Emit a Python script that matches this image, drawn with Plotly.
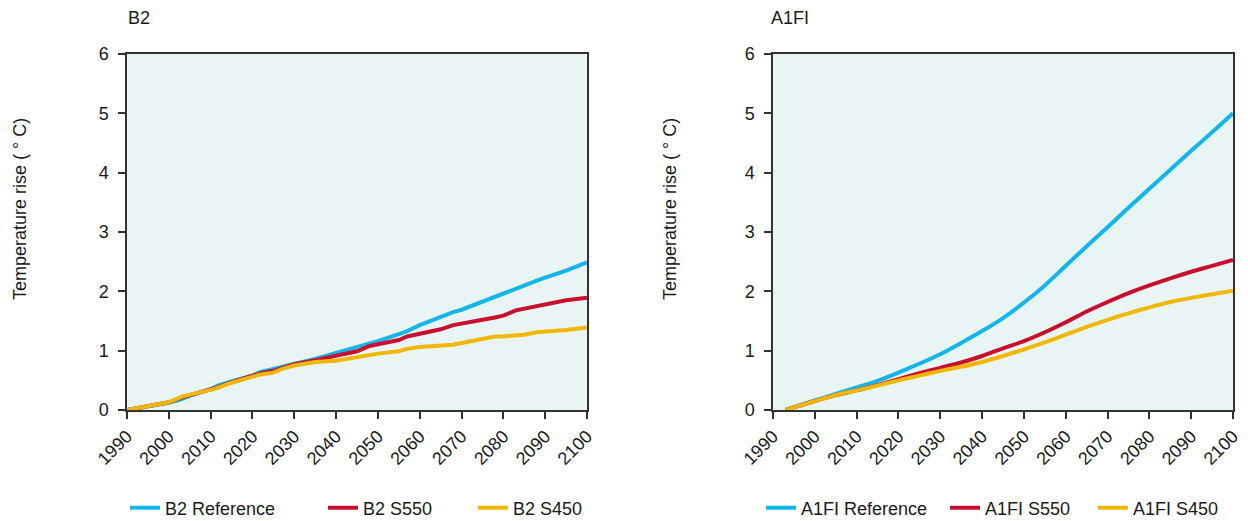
import plotly.graph_objects as go

# ---- B2 scenario (temperature rise, deg C) ----
b2_years = [1990, 1995, 2000, 2003, 2005, 2010, 2012, 2015, 2020, 2022, 2025, 2027, 2030,
            2035, 2040, 2045, 2048, 2050, 2055, 2057, 2060, 2065, 2068, 2070, 2075,
            2078, 2080, 2083, 2085, 2088, 2090, 2095, 2100]
b2_reference = [0.00, 0.06, 0.12, 0.18, 0.24, 0.35, 0.42, 0.48, 0.58, 0.64, 0.69, 0.72, 0.77,
                0.86, 0.96, 1.06, 1.12, 1.16, 1.28, 1.33, 1.43, 1.57, 1.65, 1.69, 1.83,
                1.91, 1.96, 2.04, 2.10, 2.18, 2.23, 2.35, 2.49]
b2_s550 = [0.00, 0.06, 0.13, 0.21, 0.25, 0.34, 0.39, 0.47, 0.58, 0.62, 0.66, 0.71, 0.77,
           0.84, 0.92, 0.99, 1.08, 1.11, 1.18, 1.24, 1.29, 1.36, 1.43, 1.46, 1.52,
           1.56, 1.59, 1.68, 1.71, 1.75, 1.78, 1.85, 1.89]
b2_s450 = [0.00, 0.07, 0.13, 0.22, 0.26, 0.34, 0.38, 0.46, 0.57, 0.60, 0.63, 0.69, 0.75,
           0.81, 0.83, 0.89, 0.93, 0.95, 0.99, 1.03, 1.06, 1.09, 1.10, 1.13, 1.20,
           1.24, 1.24, 1.26, 1.27, 1.31, 1.32, 1.35, 1.39]

# ---- A1FI scenario (temperature rise, deg C) ----
a1_years = [1993, 2000, 2005, 2010, 2015, 2020, 2025, 2030, 2035, 2040, 2045, 2050,
            2055, 2060, 2065, 2070, 2075, 2080, 2085, 2090, 2095, 2100]
a1_reference = [0.00, 0.16, 0.27, 0.38, 0.49, 0.63, 0.78, 0.94, 1.13, 1.33, 1.55, 1.81,
                2.10, 2.43, 2.76, 3.08, 3.41, 3.73, 4.05, 4.37, 4.68, 5.00]
a1_s550 = [0.00, 0.15, 0.25, 0.33, 0.42, 0.52, 0.62, 0.71, 0.80, 0.91, 1.04, 1.16,
           1.31, 1.48, 1.66, 1.82, 1.97, 2.10, 2.22, 2.33, 2.43, 2.53]
a1_s450 = [0.00, 0.15, 0.25, 0.33, 0.41, 0.50, 0.58, 0.66, 0.73, 0.81, 0.91, 1.02,
           1.14, 1.27, 1.40, 1.52, 1.63, 1.73, 1.82, 1.89, 1.95, 2.01]

x_ticks = list(range(1990, 2101, 10))
y_ticks = [0, 1, 2, 3, 4, 5, 6]

CYAN = "#13B5EA"
RED = "#C8102E"
YELLOW = "#F2B705"
PLOT_BG = "#E9F5F5"
AXIS = "#333333"
TEXT = "#1a1a1a"
FONT = "Liberation Sans, Arial, sans-serif"

W, H = 1248, 521


def px_x(p):
    return p / W


def px_y(p):
    return 1 - p / H


fig = go.Figure()

series = [
    (b2_years, b2_reference, "B2 Reference", CYAN, "x", "y", "legend", "linear"),
    (b2_years, b2_s550, "B2 S550", RED, "x", "y", "legend2", "linear"),
    (b2_years, b2_s450, "B2 S450", YELLOW, "x", "y", "legend3", "linear"),
    (a1_years, a1_reference, "A1FI Reference", CYAN, "x2", "y2", "legend4", "spline"),
    (a1_years, a1_s550, "A1FI S550", RED, "x2", "y2", "legend5", "spline"),
    (a1_years, a1_s450, "A1FI S450", YELLOW, "x2", "y2", "legend6", "spline"),
]
# draw order: reference first, then S550, then S450 on top
for xs, ys, name, color, xa, ya, lg, shape in series:
    fig.add_trace(go.Scatter(
        x=xs, y=ys, name=name, mode="lines",
        line=dict(color=color, width=4, shape=shape, smoothing=0.6),
        xaxis=xa, yaxis=ya, legend=lg, showlegend=True,
    ))

axis_common = dict(
    showline=True, linecolor=AXIS, linewidth=1.5, mirror=True,
    ticks="outside", ticklen=7, tickwidth=1.5, tickcolor=AXIS,
    showgrid=False, zeroline=False, automargin=False,
    tickfont=dict(family=FONT, size=18, color=TEXT),
)

x_dom_left = [px_x(127), px_x(587)]
x_dom_right = [px_x(773), px_x(1233)]
y_dom = [px_y(410), px_y(54)]

fig.update_layout(
    width=W, height=H,
    margin=dict(l=0, r=0, t=0, b=0, autoexpand=False),
    paper_bgcolor="white",
    plot_bgcolor=PLOT_BG,
    font=dict(family=FONT, size=18, color=TEXT),
    xaxis=dict(domain=x_dom_left, range=[1990, 2100], tickvals=x_ticks,
               tickangle=-45, anchor="y", **axis_common),
    yaxis=dict(domain=y_dom, range=[0, 6], tickvals=y_ticks, anchor="x",
               ticklabelstandoff=6, **axis_common),
    xaxis2=dict(domain=x_dom_right, range=[1990, 2100], tickvals=x_ticks,
                tickangle=-45, anchor="y2", **axis_common),
    yaxis2=dict(domain=y_dom, range=[0, 6], tickvals=y_ticks, anchor="x2",
                ticklabelstandoff=6, **axis_common),
)

# one legend per series, placed along the bottom of each panel
legend_x = {"legend": 125, "legend2": 323, "legend3": 473,
            "legend4": 761, "legend5": 945, "legend6": 1093}
for key, xp in legend_x.items():
    fig.update_layout({key: dict(
        x=px_x(xp), y=px_y(508), xanchor="left", yanchor="middle",
        orientation="h", bgcolor="rgba(0,0,0,0)", borderwidth=0,
        font=dict(family=FONT, size=18, color=TEXT),
    )})

# panel titles
fig.add_annotation(text="B2", x=px_x(126), y=px_y(18), xref="paper", yref="paper",
                   xanchor="left", yanchor="middle", showarrow=False,
                   font=dict(family=FONT, size=18, color=TEXT))
fig.add_annotation(text="A1FI", x=px_x(769), y=px_y(18), xref="paper", yref="paper",
                   xanchor="left", yanchor="middle", showarrow=False,
                   font=dict(family=FONT, size=18, color=TEXT))

# y-axis titles
for xp in (20, 670):
    fig.add_annotation(text="Temperature rise ( ° C)", x=px_x(xp), y=px_y(209),
                       xref="paper", yref="paper", xanchor="center", yanchor="middle",
                       textangle=-90, showarrow=False,
                       font=dict(family=FONT, size=18, color=TEXT))

fig.write_html("out.html")
